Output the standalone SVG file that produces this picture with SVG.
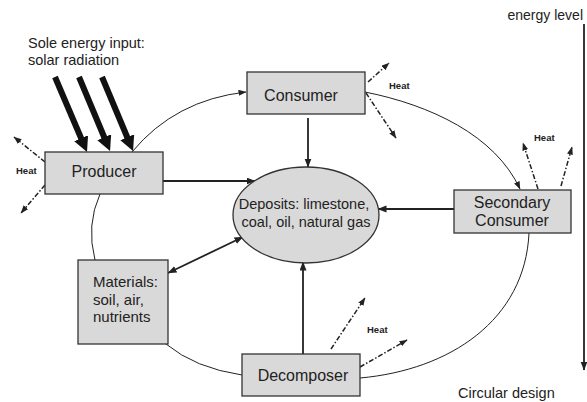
<svg xmlns="http://www.w3.org/2000/svg" width="587" height="402" viewBox="0 0 587 402">
<style>
  text { font-family: "Liberation Sans", Arial, sans-serif; fill: #222; }
  .box { fill: #d9d9d9; stroke: #333; stroke-width: 1.3; }
  .lbl { font-size: 16px; text-anchor: middle; }
  .heat { font-size: 9.5px; font-weight: bold; }
  .cyc { fill: none; stroke: #222; stroke-width: 1; }
  .solid { fill: none; stroke: #222; stroke-width: 1.8; }
  .dash { fill: none; stroke: #222; stroke-width: 1.5; stroke-dasharray: 5 2 1.5 2; }
  .sun { fill: none; stroke: #111; stroke-width: 6; }
</style>
<defs>
  <marker id="ah" markerUnits="userSpaceOnUse" markerWidth="10" markerHeight="8" refX="8.5" refY="3.5" orient="auto-start-reverse">
    <path d="M0,0 L9,3.5 L0,7 z" fill="#222"/>
  </marker>
  <marker id="ahs" markerUnits="userSpaceOnUse" markerWidth="9" markerHeight="8" refX="7.5" refY="3" orient="auto">
    <path d="M0,0 L8,3 L0,6 z" fill="#222"/>
  </marker>
  <marker id="big" markerUnits="userSpaceOnUse" markerWidth="16" markerHeight="16" refX="3" refY="7.5" orient="auto">
    <path d="M0,0 L15,7.5 L0,15 z" fill="#111"/>
  </marker>
</defs>

<g id="connectors">
  <!-- cycle -->
  <path class="cyc" d="M132,152 Q175,100 246,92" marker-end="url(#ahs)"/>
  <path class="cyc" d="M365,92 C430,105 495,135 520,189" marker-end="url(#ahs)"/>
  <path class="cyc" d="M529,233 C525,320 450,370 360,378"/>
  <path class="cyc" d="M242,375 Q195,368 166,344"/>
  <path class="cyc" d="M95,260 Q86,225 100,194"/>
  <!-- solar -->
  <line class="sun" x1="55" y1="77" x2="82.3" y2="141"  marker-end="url(#big)"/>
  <line class="sun" x1="79" y1="77" x2="105.4" y2="140" marker-end="url(#big)"/>
  <line class="sun" x1="102" y1="77" x2="128.4" y2="140" marker-end="url(#big)"/>
  <!-- solid -->
  <line class="solid" x1="163" y1="181" x2="255" y2="181" marker-end="url(#ah)"/>
  <line class="solid" x1="308" y1="118" x2="308" y2="167" marker-end="url(#ah)"/>
  <line class="solid" x1="454" y1="209" x2="378" y2="209" marker-end="url(#ah)"/>
  <line class="solid" x1="303" y1="354" x2="303" y2="262" marker-end="url(#ah)"/>
  <line class="solid" x1="168" y1="273" x2="243" y2="237" marker-start="url(#ah)" marker-end="url(#ah)"/>
  <!-- heat -->
  <line class="dash" x1="45" y1="162" x2="14" y2="137" marker-end="url(#ahs)"/>
  <line class="dash" x1="45" y1="185" x2="21" y2="213" marker-end="url(#ahs)"/>
  <line class="dash" x1="368" y1="82" x2="389" y2="63" marker-end="url(#ahs)"/>
  <line class="dash" x1="366" y1="93" x2="396" y2="138" marker-end="url(#ahs)"/>
  <line class="dash" x1="538" y1="189" x2="523" y2="143" marker-end="url(#ahs)"/>
  <line class="dash" x1="561" y1="186" x2="572" y2="147" marker-end="url(#ahs)"/>
  <line class="dash" x1="331" y1="349" x2="365" y2="298" marker-end="url(#ahs)"/>
  <line class="dash" x1="360" y1="367" x2="407" y2="340" marker-end="url(#ahs)"/>
  <!-- energy level -->
  <line class="solid" x1="584" y1="24" x2="584" y2="370" stroke-width="1.5" marker-end="url(#ah)"/>
</g>

<g id="producer">
  <rect class="box" x="45" y="152" width="118" height="42"/>
  <text class="lbl" x="104" y="177">Producer</text>
</g>
<g id="consumer">
  <rect class="box" x="247" y="72" width="118" height="42"/>
  <text class="lbl" x="301" y="101">Consumer</text>
</g>
<g id="deposits">
  <ellipse cx="306" cy="215" rx="73" ry="48" fill="#d9d9d9" stroke="#333" stroke-width="1.3"/>
  <text x="304" y="209" font-size="14.5" text-anchor="middle">Deposits: limestone,</text>
  <text x="306" y="227" font-size="14.5" text-anchor="middle">coal, oil, natural gas</text>
</g>
<g id="secondary">
  <rect class="box" x="454" y="190" width="117" height="43"/>
  <text class="lbl" x="512" y="208">Secondary</text>
  <text class="lbl" x="512" y="226">Consumer</text>
</g>
<g id="materials">
  <rect class="box" x="78" y="260" width="90" height="84"/>
  <text x="93" y="287" font-size="15">Materials:</text>
  <text x="93" y="305" font-size="15">soil, air,</text>
  <text x="93" y="322" font-size="15">nutrients</text>
</g>
<g id="decomposer">
  <rect class="box" x="242" y="354" width="118" height="42"/>
  <text class="lbl" x="303" y="381">Decomposer</text>
</g>

<g id="labels">
  <text x="28" y="48" font-size="14.5">Sole energy input:</text>
  <text x="28" y="65" font-size="14.5">solar radiation</text>
  <text class="heat" x="16" y="174">Heat</text>
  <text class="heat" x="389" y="89">Heat</text>
  <text class="heat" x="534" y="141">Heat</text>
  <text class="heat" x="367" y="333">Heat</text>
  <text x="583" y="20" font-size="14" text-anchor="end">energy level</text>
  <text x="458" y="398" font-size="14.5">Circular design</text>
</g>
</svg>
